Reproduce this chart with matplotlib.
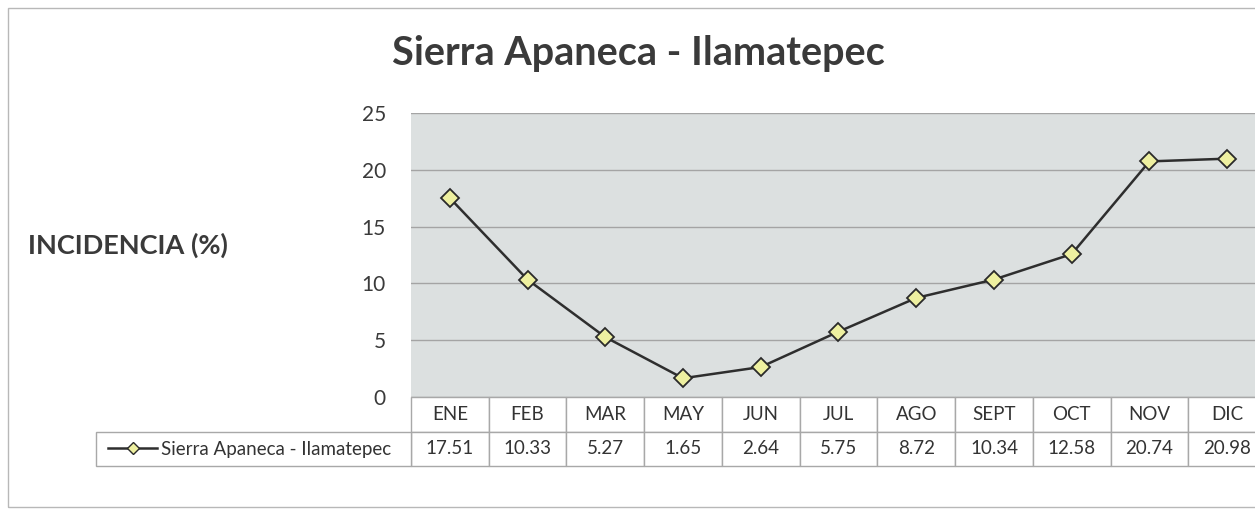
import matplotlib.pyplot as plt
from matplotlib.lines import Line2D
from matplotlib.patches import Rectangle

plt.rcParams['font.family'] = ['Lato', 'DejaVu Sans']

TITLE = "Sierra Apaneca - Ilamatepec"
SERIES = "Sierra Apaneca - Ilamatepec"
MONTHS = ["ENE", "FEB", "MAR", "MAY", "JUN", "JUL", "AGO", "SEPT", "OCT", "NOV", "DIC"]
INCIDENCIA = [17.51, 10.33, 5.27, 1.65, 2.64, 5.75, 8.72, 10.34, 12.58, 20.74, 20.98]
YTICKS = [0, 5, 10, 15, 20, 25]

W, H = 1255, 513
fig = plt.figure(figsize=(W / 100, H / 100), dpi=100)
fig.patch.set_facecolor('white')

# outer chart frame (runs off the right edge like the scan)
fig.patches.append(Rectangle((8 / W, 1 - 507 / H), 1.2, (507 - 8) / H,
                             transform=fig.transFigure, fill=False,
                             edgecolor='#b8b8b8', linewidth=1.0))

# plot area in pixels: left 411, right 1266, top 113, bottom 397
x0, x1, y0, y1 = 411, 1266, 113, 397
ax = fig.add_axes([x0 / W, 1 - y1 / H, (x1 - x0) / W, (y1 - y0) / H])
ax.set_facecolor('#dce0e0')
for s in ax.spines.values():
    s.set_visible(False)
ax.set_xlim(-0.5, len(MONTHS) - 0.5)
ax.set_ylim(0, 25)
ax.set_yticks(YTICKS)
ax.set_xticks([])
ax.tick_params(axis='y', length=0, pad=18, labelsize=15, labelcolor='#3a3a3a')
ax.yaxis.grid(True, color='#a4a4a4', linewidth=1.0)
ax.set_axisbelow(True)

xs = list(range(len(MONTHS)))
ax.plot(xs, INCIDENCIA, color='#2e2e2e', linewidth=1.8, marker='D', markersize=9.5,
        markerfacecolor='#eef0a0', markeredgecolor='#2a2a2a', markeredgewidth=1.3,
        clip_on=False, zorder=3)

# data table under the plot: one column per month, drawn in x data units
row_h = 34.5 / (y1 - y0)
edge = '#a8a8a8'
trans = ax.get_xaxis_transform()
for j, m in enumerate(MONTHS):
    for r, txt in enumerate([m, f"{INCIDENCIA[j]:.2f}"]):
        yb = -(r + 1) * row_h
        ax.add_patch(Rectangle((j - 0.5, yb), 1.0, row_h, transform=trans,
                               facecolor='white', edgecolor=edge, linewidth=1.0,
                               clip_on=False))
        ax.text(j, yb + row_h / 2, txt, transform=trans, ha='center', va='center',
                fontsize=13.5, color='#333333', clip_on=False)
lab_x = (96 - x0) / (x1 - x0)
ax.add_patch(Rectangle((lab_x, -2 * row_h), -lab_x, row_h, transform=ax.transAxes,
                       facecolor='white', edgecolor=edge, linewidth=1.0, clip_on=False))

# legend key inside the row label cell
key = Line2D([], [], color='#2e2e2e', linewidth=1.8, marker='D', markersize=6,
             markerfacecolor='#eef0a0', markeredgecolor='#2a2a2a', markeredgewidth=1.0)
fig.legend(handles=[key], labels=[SERIES], loc='center left',
           bbox_to_anchor=(99 / W, 1 - 449 / H), frameon=False,
           fontsize=13.5, handlelength=2.6, handletextpad=0.2, borderpad=0,
           labelcolor='#333333')

fig.text(638 / W, 1 - 65 / H, TITLE, ha='center', va='baseline',
         fontsize=28.5, fontweight='bold', color='#3a3a3a')
fig.text(28 / W, 1 - 245 / H, "INCIDENCIA (%)", ha='left', va='center',
         fontsize=19.5, fontweight='bold', color='#3a3a3a')

fig.savefig('out.png', dpi=100)
